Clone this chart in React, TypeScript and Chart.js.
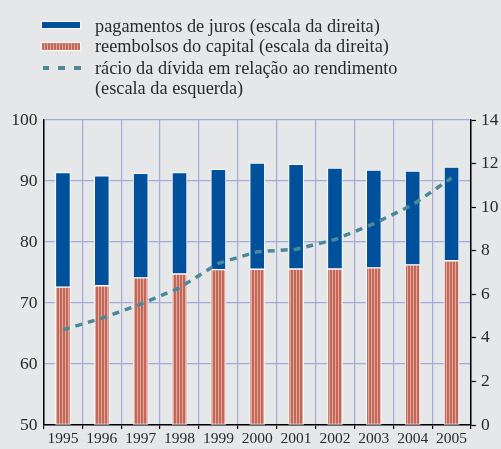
import React, { useEffect, useRef } from "react";
import { Chart, registerables } from "chart.js";

Chart.register(...registerables);

const years = ["1995", "1996", "1997", "1998", "1999", "2000", "2001", "2002", "2003", "2004", "2005"];
const capitalRepayments = [6.33, 6.39, 6.75, 6.93, 7.13, 7.15, 7.16, 7.16, 7.21, 7.35, 7.54];
const interestPayments = [5.26, 5.05, 4.8, 4.66, 4.61, 4.87, 4.81, 4.63, 4.49, 4.3, 4.3];
const debtToIncome = [65.6, 67.5, 69.8, 72.5, 76.5, 78.4, 78.8, 80.4, 83.0, 86.1, 90.5];

const leftMin = 50;
const leftMax = 100;
const leftStep = 10;
const rightMin = 0;
const rightMax = 14;
const rightStep = 2;

const legendLabels = [
  "pagamentos de juros (escala da direita)",
  "reembolsos do capital (escala da direita)",
  "rácio da dívida em relação ao rendimento",
  "(escala da esquerda)",
];

const BG = "#e6e7e9";
const BLUE = "#00509b";
const RED_DARK = "#c1685b";
const RED_LIGHT = "#e3a898";
const TEAL = "#4a8a97";
const GRID = "#a3acd9";
const TEXT = "#2a2a2a";
const FONT = "'Liberation Serif', 'Times New Roman', serif";

function stripePattern(): CanvasPattern | string {
  const c = document.createElement("canvas");
  c.width = 3;
  c.height = 4;
  const x = c.getContext("2d");
  if (!x) return RED_DARK;
  x.fillStyle = RED_LIGHT;
  x.fillRect(0, 0, 3, 4);
  x.fillStyle = RED_DARK;
  x.fillRect(0, 0, 2, 4);
  return x.createPattern(c, "repeat") || RED_DARK;
}

export default function App() {
  const canvasRef = useRef<HTMLCanvasElement | null>(null);

  useEffect(() => {
    document.body.style.margin = "0";
    document.body.style.background = BG;
    const canvas = canvasRef.current;
    if (!canvas) return;
    const chart = new Chart(canvas, {
      type: "bar",
      data: {
        labels: years,
        datasets: [
          {
            type: "line",
            label: "rácio",
            data: debtToIncome,
            yAxisID: "yL",
            borderColor: TEAL,
            borderWidth: 3.5,
            borderDash: [7, 6],
            pointRadius: 0,
            fill: false,
            tension: 0,
            order: 0,
          } as any,
          {
            label: "reembolsos",
            data: capitalRepayments,
            yAxisID: "yR",
            backgroundColor: stripePattern(),
            borderColor: "#ffffff",
            borderWidth: 1,
            borderSkipped: false,
            barThickness: 15,
            stack: "s",
            order: 1,
          },
          {
            label: "juros",
            data: interestPayments,
            yAxisID: "yR",
            backgroundColor: BLUE,
            borderColor: "#ffffff",
            borderWidth: 1,
            borderSkipped: false,
            barThickness: 15,
            stack: "s",
            order: 1,
          },
        ],
      },
      options: {
        animation: false,
        responsive: true,
        maintainAspectRatio: false,
        layout: { padding: { top: 120, left: 0, right: 0, bottom: 0 } },
        plugins: {
          legend: { display: false },
          tooltip: { enabled: false },
        },
        scales: {
          x: {
            stacked: true,
            offset: true,
            grid: {
              offset: true,
              color: GRID,
              lineWidth: 1.2,
              drawTicks: true,
              tickLength: 4,
              tickColor: "#000",
              tickWidth: 1.2,
            },
            border: { color: "#000", width: 1.5 },
            ticks: { color: TEXT, font: { family: FONT, size: 15.5 }, padding: 1, maxRotation: 0 },
            afterFit: (s: any) => {
              s.height = 24;
            },
          },
          yL: {
            type: "linear",
            position: "left",
            min: leftMin,
            max: leftMax,
            ticks: { stepSize: leftStep, color: TEXT, font: { family: FONT, size: 17.5 }, padding: 6 },
            grid: { color: GRID, lineWidth: 1.2, drawTicks: false },
            border: { color: "#000", width: 1.5 },
            afterFit: (s: any) => {
              s.width = 43.5;
            },
          },
          yR: {
            type: "linear",
            position: "right",
            stacked: true,
            min: rightMin,
            max: rightMax,
            ticks: { stepSize: rightStep, color: TEXT, font: { family: FONT, size: 17.5 }, padding: 5 },
            grid: {
              drawOnChartArea: false,
              drawTicks: true,
              tickLength: 5,
              tickColor: "#000",
              tickWidth: 1.2,
            },
            border: { color: "#000", width: 1.5 },
            afterFit: (s: any) => {
              s.width = 30;
            },
          },
        },
      },
    });
    return () => chart.destroy();
  }, []);

  const textStyle: React.CSSProperties = {
    position: "absolute",
    left: 95,
    fontFamily: FONT,
    fontSize: 18.3,
    color: TEXT,
    whiteSpace: "nowrap",
    lineHeight: "20px",
  };

  return (
    <div style={{ position: "relative", width: 501, height: 449, background: BG, overflow: "hidden" }}>
      <canvas ref={canvasRef} style={{ position: "absolute", left: 0, top: 0 }} />
      <div style={{ position: "absolute", left: 42, top: 22, width: 38, height: 6, background: BLUE, outline: "1px solid #fff" }} />
      <div
        style={{
          position: "absolute",
          left: 42,
          top: 43,
          width: 38,
          height: 7,
          outline: "1px solid #fff",
          background: `repeating-linear-gradient(90deg, ${RED_DARK} 0px, ${RED_DARK} 2px, ${RED_LIGHT} 2px, ${RED_LIGHT} 3px)`,
        }}
      />
      {[42.7, 58.3, 74].map((x, i) => (
        <div key={i} style={{ position: "absolute", left: x, top: 66, width: 6.5, height: 4, background: TEAL }} />
      ))}
      <div style={{ ...textStyle, top: 16 }}>{legendLabels[0]}</div>
      <div style={{ ...textStyle, top: 36 }}>{legendLabels[1]}</div>
      <div style={{ ...textStyle, top: 58 }}>{legendLabels[2]}</div>
      <div style={{ ...textStyle, top: 78 }}>{legendLabels[3]}</div>
    </div>
  );
}
